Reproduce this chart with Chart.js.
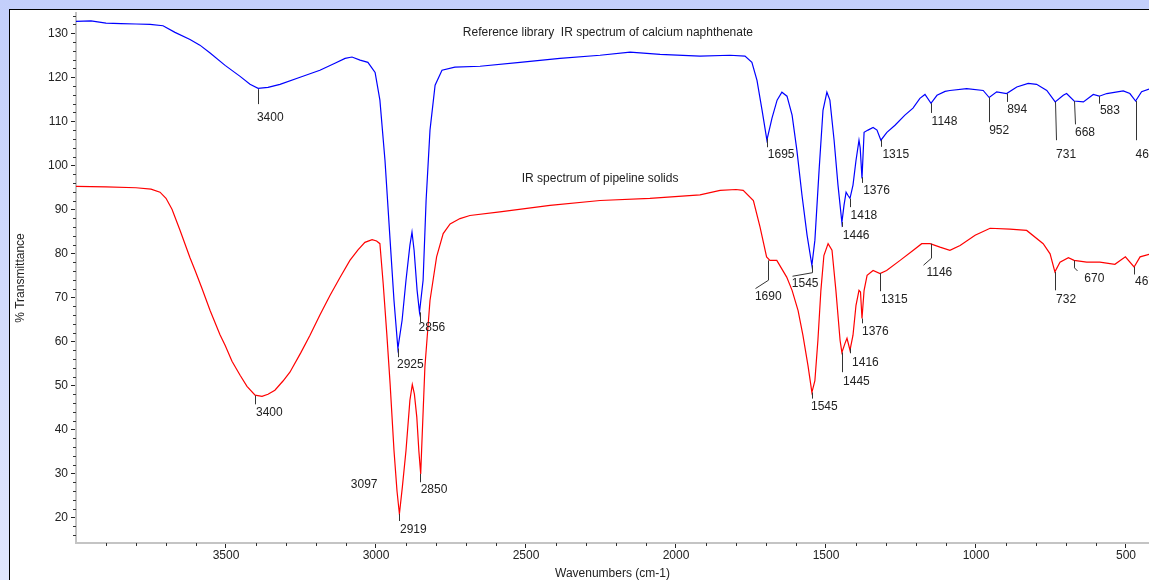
<!DOCTYPE html>
<html><head><meta charset="utf-8">
<script src="https://cdn.jsdelivr.net/npm/chart.js@4.4.1/dist/chart.umd.min.js"></script>
<style>
html,body{margin:0;padding:0;}
body{width:1149px;height:580px;overflow:hidden;background:linear-gradient(#c3cffb,#e0e6fd);position:relative;}
#frame{position:absolute;left:9px;top:9px;width:1140px;height:571px;border-left:1px solid #000;border-top:1px solid #000;background:#fff;}
#c{position:absolute;left:10px;top:10px;}
</style></head><body>
<div id="frame"></div>
<canvas id="c" width="1139" height="570"></canvas>
<script>
// ---- Data (wavenumber cm-1, % transmittance) ----
const blueWn = [4000,3950,3900,3850,3800,3753,3710,3670,3620,3587,3553,3503,3453,3420,3393,3360,3320,3253,3187,3137,3103,3080,3053,3027,3003,2987,2970,2953,2940,2927,2913,2900,2887,2880,2873,2863,2855,2843,2833,2820,2803,2780,2737,2653,2520,2387,2253,2153,2053,1920,1820,1770,1747,1730,1713,1697,1680,1663,1647,1630,1613,1597,1580,1563,1547,1537,1523,1510,1497,1487,1473,1460,1447,1440,1433,1427,1420,1410,1400,1390,1386,1380,1373,1360,1343,1330,1317,1297,1270,1237,1210,1187,1170,1150,1130,1103,1087,1031,976,956,931,898,864,826,798,764,736,709,698,673,642,609,589,564,509,487,468,448,423];
const blueT  = [132.7,132.8,132.3,132.2,132.1,132.0,131.7,130.2,128.6,127.3,125.5,122.7,120.2,118.4,117.5,117.7,118.4,120.0,121.6,123.2,124.3,124.6,123.9,123.4,121.1,114.8,101.1,83,69.3,58.4,64.8,73.9,81.8,84.8,80.7,71.6,66.6,73.9,92,108,118.2,121.6,122.3,122.5,123.4,124.3,125.0,125.7,125.2,124.8,125.0,124.8,123.4,119.3,112.5,105.7,110.7,114.8,116.6,115.7,111.4,103.4,93.2,84.1,77.3,83,98.9,112.5,116.6,114.8,105.7,95.5,87,90.9,93.9,93.2,92.5,95.5,101.1,105.7,104,97,107.5,108,108.6,108,105.7,107.5,109.1,111.4,113,115.2,116.1,114.1,115.9,116.8,117,117.4,117,115.4,116.7,116.3,117.8,118.6,118.4,117,114.4,115.9,116.3,114.6,114.4,116.1,115.7,116.3,116.9,116.3,114.6,116.7,117.3];

const redWn = [4000,3900,3800,3750,3720,3700,3680,3653,3620,3603,3580,3553,3520,3503,3480,3453,3430,3403,3380,3360,3337,3310,3287,3250,3220,3187,3153,3120,3087,3060,3037,3013,2998,2987,2976,2964,2953,2940,2930,2922,2912,2900,2887,2879,2872,2864,2857,2851,2848,2837,2820,2798,2776,2753,2720,2687,2587,2420,2253,2087,1920,1853,1800,1776,1742,1720,1698,1687,1664,1631,1613,1593,1577,1560,1547,1537,1527,1517,1507,1493,1480,1467,1453,1447,1437,1430,1420,1410,1400,1390,1385,1380,1373,1363,1343,1320,1298,1253,1209,1181,1153,1120,1087,1053,1003,953,887,831,776,753,737,720,692,673,631,587,537,502,473,453,423];
const redT  = [95.2,95.1,94.9,94.6,93.9,92.5,90.0,85.2,79,76.1,72,67,61.5,59.1,55.5,52.3,49.8,47.8,47.5,48.0,48.9,51,53,57.5,61.4,66,70.5,74.5,78.4,80.8,82.5,83.1,82.8,82.2,73.1,61.7,50.4,35.2,26,20.8,27,35.2,46.6,50.2,48,42.8,35,29.9,35.2,54.2,69.3,79.2,84.5,86.7,87.9,88.6,89.4,90.9,92,92.5,93.3,94.3,94.5,94.3,92,86,79.2,78.4,78.4,74.6,71.6,67,61.4,54.5,48.4,51.1,60.2,71.6,79.5,82.2,80.7,71.6,60.2,57.5,59.5,60.7,58,61.4,68.2,71.6,71.2,65.2,71.6,75,76.1,75.4,76.1,78.4,80.7,82.2,82.2,81.4,80.7,81.8,84.1,85.7,85.5,85.2,82.2,79.9,75.8,78,79,78.4,78,78,77.5,79.2,76.9,79.2,79.8];

// Tick labels
const xTickValues = [3500, 3000, 2500, 2000, 1500, 1000, 500];
const yTickValues = [20, 30, 40, 50, 60, 70, 80, 90, 100, 110, 120, 130];
const xMinorStep = 100, yMinorStep = 2;

// Peak labels: text, leader polyline [[wn,%T],...], text anchor [wn,%T] (left, middle)
const blueLabels = [
  ["3400", [[3393,117.3],[3393,113.9]], [3397,110.9]],
  ["2925", [[2927,58.4],[2927,56.4]], [2930,54.8]],
  ["2856", [[2853,66.6],[2853,64.3]], [2858,63.2]],
  ["1695", [[1697,106.1],[1697,104.1]], [1694,102.3]],
  ["1545", [[1546,77.3],[1546,75.6],[1614,74.8]], [1614,73.0]],
  ["1446", [[1448,87.1],[1448,86.0]], [1444,84.1]],
  ["1418", [[1420,92.4],[1420,90.5]], [1418,88.6]],
  ["1376", [[1380,97.3],[1380,96.0]], [1376,94.2]],
  ["1315", [[1317,105.8],[1317,104.2]], [1312,102.4]],
  ["1148", [[1150,114.1],[1150,111.9]], [1148,110.0]],
  ["952",  [[956,115.4],[956,109.8]], [956,107.8]],
  ["894",  [[898,116.3],[898,114.4]], [896,112.7]],
  ["731",  [[736,114.4],[733,105.7]], [733,102.4]],
  ["668",  [[673,114.6],[671,109.3]], [670,107.5]],
  ["583",  [[589,115.7],[589,114.0]], [587,112.3]],
  ["467",  [[468,114.6],[468,105.7]], [468,102.4]]
];
const redLabels = [
  ["3400", [[3403,47.7],[3403,45.7]], [3400,43.8]],
  ["3097", [], [3084,27.4]],
  ["2919", [[2922,20.8],[2922,19.2]], [2920,17.3]],
  ["2850", [[2853,29.9],[2853,28.0]], [2851,26.3]],
  ["1690", [[1692,78.4],[1692,73.9],[1737,72.0]], [1737,70.1]],
  ["1545", [[1547,48.4],[1547,47.0]], [1550,45.2]],
  ["1445", [[1447,57.5],[1447,53.0]], [1443,50.9]],
  ["1416", [[1420,58.4],[1420,57.3]], [1413,55.2]],
  ["1376", [[1380,65.2],[1380,64.1]], [1380,62.3]],
  ["1315", [[1320,75.5],[1320,71.4]], [1317,69.5]],
  ["1146", [[1151,82.2],[1151,78.9],[1178,77.3]], [1165,75.5]],
  ["732",  [[737,75.8],[737,71.6]], [733,69.5]],
  ["670",  [[673,78.4],[673,76.7],[662,76.0]], [639,74.3]],
  ["467",  [[473,76.9],[473,75.2]], [470,73.5]]
];
const titles = [
  ["Reference library  IR spectrum of calcium naphthenate", [2227,130.2]],
  ["IR spectrum of pipeline solids", [2253,97.0]]
];

const FONT = '"Liberation Sans", Arial, sans-serif';
Chart.defaults.font.family = FONT;
Chart.defaults.font.size = 12;
Chart.defaults.color = '#222';

const annotPlugin = {
  id: 'annot',
  afterDatasetsDraw(chart) {
    const ctx = chart.ctx, xs = chart.scales.x, ys = chart.scales.y;
    ctx.save();
    ctx.font = '12px ' + FONT;
    ctx.textAlign = 'left';
    ctx.textBaseline = 'middle';
    const drawSet = (labels) => {
      labels.forEach(([t, pts, pos]) => {
        if (pts.length) {
          ctx.strokeStyle = '#333';
          ctx.lineWidth = 1;
          ctx.beginPath();
          pts.forEach(([w, v], i) => {
            const px = Math.round(xs.getPixelForValue(w)) + 0.5, py = ys.getPixelForValue(v);
            i ? ctx.lineTo(px, py) : ctx.moveTo(px, py);
          });
          ctx.stroke();
        }
        ctx.fillStyle = '#222';
        ctx.fillText(t, xs.getPixelForValue(pos[0]), ys.getPixelForValue(pos[1]));
      });
    };
    drawSet(blueLabels);
    drawSet(redLabels);
    ctx.textAlign = 'center';
    titles.forEach(([t, p]) => ctx.fillText(t, xs.getPixelForValue(p[0]), ys.getPixelForValue(p[1])));
    ctx.restore();
  },
  afterDraw(chart) {
    const ctx = chart.ctx, xs = chart.scales.x, ys = chart.scales.y;
    ctx.save();
    ctx.fillStyle = '#333';
    const ax = chart.chartArea.left, ay = chart.chartArea.bottom;
    for (let v = Math.ceil(ys.min / yMinorStep) * yMinorStep; v <= ys.max; v += yMinorStep) {
      if (yTickValues.includes(v)) continue;
      const py = Math.round(ys.getPixelForValue(v));
      ctx.fillRect(ax - 3, py, 3, 1);
    }
    for (let w = Math.ceil(xs.min / xMinorStep) * xMinorStep; w < xs.max; w += xMinorStep) {
      if (xTickValues.includes(w)) continue;
      const px = Math.round(xs.getPixelForValue(w));
      ctx.fillRect(px, ay, 1, 3);
    }
    ctx.restore();
  }
};

new Chart(document.getElementById('c'), {
  type: 'line',
  data: {
    datasets: [
      { data: blueWn.map((w, i) => ({x: w, y: blueT[i]})), borderColor: '#0000ff', borderWidth: 1.2, pointRadius: 0, tension: 0, fill: false },
      { data: redWn.map((w, i) => ({x: w, y: redT[i]})), borderColor: '#ff0000', borderWidth: 1.2, pointRadius: 0, tension: 0, fill: false }
    ]
  },
  options: {
    responsive: false,
    animation: false,
    devicePixelRatio: 1,
    layout: { padding: { top: 3, right: 0, left: 0, bottom: 0 } },
    plugins: { legend: { display: false }, tooltip: { enabled: false } },
    scales: {
      x: {
        type: 'linear', reverse: true, min: 423.3, max: 4000,
        border: { display: true, color: '#c4c4c4', width: 2 },
        grid: { drawOnChartArea: false, drawTicks: true, tickLength: 5, tickColor: '#222', tickWidth: 1 },
        ticks: { padding: 0, maxRotation: 0, autoSkip: false, callback: (v) => String(v) },
        afterBuildTicks: (s) => { s.ticks = xTickValues.map(v => ({ value: v })); },
        title: { display: true, text: 'Wavenumbers (cm-1)', padding: { top: 0, bottom: 0 }, font: { size: 12, lineHeight: 1 } },
        afterFit: (s) => { s.height = 37; s.paddingLeft = 0; s.paddingRight = 0; }
      },
      y: {
        type: 'linear', min: 14.2, max: 134.6,
        border: { display: true, color: '#c4c4c4', width: 2 },
        grid: { drawOnChartArea: false, drawTicks: true, tickLength: 5, tickColor: '#222', tickWidth: 1 },
        ticks: { padding: 3, autoSkip: false, callback: (v) => String(v) },
        afterBuildTicks: (s) => { s.ticks = yTickValues.map(v => ({ value: v })); },
        title: { display: true, text: '% Transmittance', padding: { top: 3, bottom: 0 }, font: { size: 12 } },
        afterFit: (s) => { s.width = 66; s.paddingTop = 0; s.paddingBottom = 0; }
      }
    }
  },
  plugins: [annotPlugin]
});
</script>
</body></html>
